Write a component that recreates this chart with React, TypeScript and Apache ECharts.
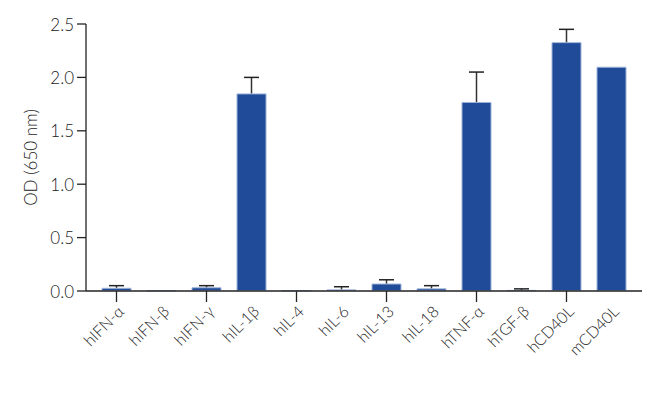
import React, { useEffect, useRef } from "react";
import * as echarts from "echarts";

const categories = ["hIFN-α", "hIFN-β", "hIFN-γ", "hIL-1β", "hIL-4", "hIL-6", "hIL-13", "hIL-18", "hTNF-α", "hTGF-β", "hCD40L", "mCD40L"];
const values = [0.03, 0.005, 0.035, 1.85, 0.005, 0.015, 0.07, 0.025, 1.77, 0.01, 2.33, 2.1];
const errors = [0.02, 0.0, 0.015, 0.15, 0.0, 0.025, 0.035, 0.025, 0.28, 0.01, 0.12, 0.0];
const yTicks = [0, 0.5, 1.0, 1.5, 2.0, 2.5];
const yTitle = "OD (650 nm)";

const FONT = "Lato";

export default function App() {
  const ref = useRef<HTMLDivElement>(null);
  useEffect(() => {
    if (!ref.current) return;
    const chart = echarts.init(ref.current, null, { renderer: "svg" });
    chart.setOption({
      animation: false,
      grid: { left: 94, right: 16, top: 24, bottom: 110 },
      xAxis: {
        type: "category",
        data: categories,
        axisLine: { show: false },
        axisTick: { show: true, alignWithLabel: true, length: 11, lineStyle: { color: "#222", width: 1.3 } },
        axisLabel: { show: false },
      },
      yAxis: {
        type: "value",
        min: yTicks[0],
        max: yTicks[yTicks.length - 1],
        interval: 0.5,
        axisLine: { show: false },
        axisTick: { show: false },
        axisLabel: { fontFamily: FONT, fontWeight: 300, fontSize: 17, color: "#222", margin: 20, formatter: (v: number) => v.toFixed(1) },
        splitLine: { show: false },
      },
      series: [
        {
          type: "bar",
          data: values,
          barWidth: 30,
          itemStyle: { color: "#1f4b98", borderColor: "#9fb3da", borderWidth: 1 },
        },
      ],
    });

    const px = (x: number, y: number) => chart.convertToPixel({ xAxisIndex: 0, yAxisIndex: 0 }, [x, y]) as number[];
    const p0 = px(0, 0);
    const p1 = px(1, 0);
    const step = p1[0] - p0[0];
    const pLast = px(categories.length - 1, 0);
    const axisX = p0[0] - step / 2 - 8;
    const axisEnd = pLast[0] + step / 2 + 8;
    const yTop = px(0, yTicks[yTicks.length - 1])[1];
    const stroke = "#222";
    const elements: any[] = [
      { type: "line", shape: { x1: axisX, y1: yTop, x2: axisX, y2: p0[1] }, style: { stroke, lineWidth: 1.3 }, z: 10 },
      { type: "line", shape: { x1: axisX, y1: p0[1], x2: axisEnd, y2: p0[1] }, style: { stroke, lineWidth: 1.3 }, z: 10 },
    ];
    yTicks.forEach((t) => {
      const y = px(0, t)[1];
      elements.push({ type: "line", shape: { x1: axisX - 9, y1: y, x2: axisX, y2: y }, style: { stroke, lineWidth: 1.3 }, z: 10 });
    });
    values.forEach((v, i) => {
      if (errors[i] <= 0) return;
      const lo = px(i, v);
      const hi = px(i, v + errors[i]);
      elements.push({ type: "line", shape: { x1: lo[0], y1: lo[1], x2: hi[0], y2: hi[1] }, style: { stroke: "#333", lineWidth: 1.5 }, z: 9 });
      elements.push({ type: "line", shape: { x1: hi[0] - 7.5, y1: hi[1], x2: hi[0] + 7.5, y2: hi[1] }, style: { stroke, lineWidth: 1.5 }, z: 9 });
    });
    categories.forEach((c, i) => {
      const p = px(i, 0);
      elements.push({
        type: "text",
        x: p[0] + 4,
        y: p[1] + 17,
        rotation: Math.PI / 4,
        style: { text: c, fontSize: 16, fontFamily: FONT, fontWeight: 300, fill: "#222", align: "right", verticalAlign: "middle" },
        z: 11,
      });
    });
    const yMid = (yTop + p0[1]) / 2;
    elements.push({
      type: "text",
      x: axisX - 56,
      y: yMid,
      rotation: Math.PI / 2,
      style: { text: yTitle, fontSize: 17, fontFamily: FONT, fontWeight: 300, fill: "#222", align: "center", verticalAlign: "middle" },
      z: 11,
    });
    chart.setOption({ graphic: elements });

    return () => chart.dispose();
  }, []);
  return <div ref={ref} style={{ position: "absolute", left: 0, top: 0, width: 650, height: 401 }} />;
}
